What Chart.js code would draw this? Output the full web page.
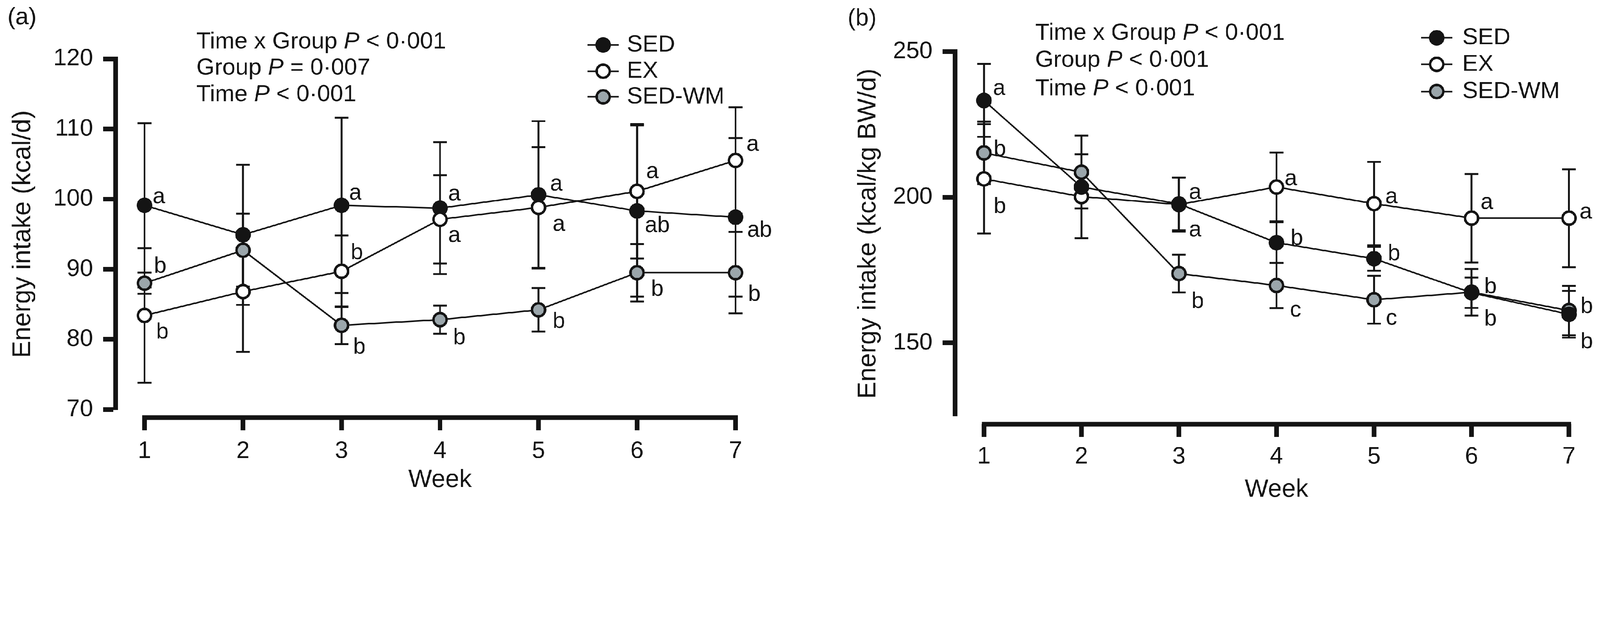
<!DOCTYPE html>
<html>
<head>
<meta charset="utf-8">
<script src="https://cdn.jsdelivr.net/npm/chart.js@4.4.1/dist/chart.umd.min.js"></script>
<style>
  html, body { margin: 0; padding: 0; background: #fff; overflow: hidden; }
  #outer { position: relative; overflow: hidden; }
  #wrap { position: absolute; left: 0; top: 0; width: 5125px; height: 1612px; transform-origin: 0 0; }
  canvas { position: absolute; top: 0; }
</style>
</head>
<body>
<div id="outer">
<div id="wrap">
  <canvas id="chartA" width="2560" height="1612" style="left:0"></canvas>
  <canvas id="chartB" width="2565" height="1612" style="left:2560px"></canvas>
</div>
</div>
<script>
const weeks = [1, 2, 3, 4, 5, 6, 7];
const groups = ['SED', 'EX', 'SED-WM'];

// (a) energy intake, kcal/d (mean and SD)
const sedA = [99.1, 94.9, 99.1, 98.7, 100.6, 98.3, 97.4];
const sedSdA = [11.7, 10.0, 12.5, 9.4, 10.5, 12.2, 11.3];
const exA = [83.4, 86.8, 89.7, 97.1, 98.8, 101.1, 105.5];
const exSdA = [9.6, 8.6, 5.1, 6.3, 8.6, 9.6, 7.6];
const wmA = [88.0, 92.7, 82.0, 82.8, 84.2, 89.5, 89.5];
const wmSdA = [1.5, 5.2, 2.7, 2.0, 3.1, 4.1, 5.8];
const yTicksA = [70, 80, 90, 100, 110, 120];

// (b) energy intake, kcal/kg BW/d
const sedB = [233.2, 203.5, 197.7, 184.4, 178.9, 167.2, 159.8];
const sedSdB = [12.5, 17.6, 9.0, 7.0, 4.1, 5.2, 8.0];
const exB = [206.3, 200.2, 197.5, 203.5, 197.8, 192.8, 192.8];
const exSdB = [18.8, 4.1, 9.3, 11.8, 14.3, 15.2, 16.8];
const wmB = [215.2, 208.6, 173.8, 169.7, 164.8, 167.4, 161.1];
const wmSdB = [10.7, 6.1, 6.5, 7.8, 8.2, 8.0, 8.5];
const yTicksB = [150, 200, 250];

// significance letters
const lettersA = [
  ['a', '', 'a', 'a', 'a', 'ab', 'ab'],
  ['b', '', 'b', 'a', 'a', 'a', 'a'],
  ['b', '', 'b', 'b', 'b', 'b', 'b']
];
const lettersB = [
  ['a', '', 'a', 'b', 'b', 'b', 'b'],
  ['b', '', 'a', 'a', 'a', 'a', 'a'],
  ['b', '', 'b', 'c', 'c', 'b', 'b']
];

const statsA = [['Time x Group ', 'P', ' < 0·001'], ['Group ', 'P', ' = 0·007'], ['Time ', 'P', ' < 0·001']];
const statsB = [['Time x Group ', 'P', ' < 0·001'], ['Group ', 'P', ' < 0·001'], ['Time ', 'P', ' < 0·001']];

const INK = '#141414';
const GREY = '#9ba6ab';
const FONT = "'Liberation Sans', Arial, Helvetica, sans-serif";

// fit the 5125 x 1612 drawing into the window
const fit = window.innerWidth / 5125;
document.getElementById('wrap').style.transform = 'scale(' + fit + ')';
document.getElementById('outer').style.width = (5125 * fit) + 'px';
document.getElementById('outer').style.height = (1612 * fit) + 'px';

// letter offsets from each point (px)
const letterPosA = [
  [[46, -26], null, [44, -38], [46, -44], [57, -34], [65, 48], [77, 43]],
  [[57, 54], null, [49, -58], [46, 53], [65, 55], [49, -62], [55, -51]],
  [[50, -54], null, [57, 71], [62, 59], [65, 38], [65, 54], [60, 70]]
];
const letterPosB = [
  [[49, -38], null, [52, -36], [65, -13], [64, -15], [61, -18], [57, 89]],
  [[51, 90], null, [52, 82], [46, -26], [56, -21], [49, -49], [54, -18]],
  [[51, -10], null, [60, 90], [61, 80], [56, 60], [61, 87], [57, -12]]
];

function panelPlugin(p) {
  return {
    id: 'panel',
    beforeDatasetsDraw(chart) {
      const ctx = chart.ctx, xs = chart.scales.x, ys = chart.scales.y;
      ctx.save();
      ctx.strokeStyle = INK;
      ctx.lineWidth = 6;
      p.sd.forEach((sds, i) => {
        const means = chart.data.datasets[i].data;
        sds.forEach((s, j) => {
          const px = xs.getPixelForValue(weeks[j]);
          const hi = ys.getPixelForValue(means[j] + s);
          const lo = ys.getPixelForValue(means[j] - s);
          ctx.beginPath();
          ctx.moveTo(px, hi); ctx.lineTo(px, lo);
          ctx.moveTo(px - 22, hi); ctx.lineTo(px + 22, hi);
          ctx.moveTo(px - 22, lo); ctx.lineTo(px + 22, lo);
          ctx.stroke();
        });
      });
      ctx.restore();
    },
    afterDraw(chart) {
      const ctx = chart.ctx, xs = chart.scales.x, ys = chart.scales.y;
      const area = chart.chartArea;
      ctx.save();
      ctx.fillStyle = INK;
      ctx.strokeStyle = INK;

      // detached x axis
      const ax = area.bottom + p.xGap;
      const x1 = xs.getPixelForValue(weeks[0]);
      const x7 = xs.getPixelForValue(weeks[weeks.length - 1]);
      ctx.lineWidth = 15;
      ctx.beginPath();
      ctx.moveTo(x1 - 7, ax); ctx.lineTo(x7 + 7, ax);
      ctx.stroke();
      weeks.forEach(w => {
        const px = xs.getPixelForValue(w);
        ctx.beginPath();
        ctx.moveTo(px, ax); ctx.lineTo(px, ax + 41);
        ctx.stroke();
      });

      ctx.textBaseline = 'middle';
      ctx.textAlign = 'center';
      ctx.font = '80px ' + FONT;
      ctx.fillText('Week', (x1 + x7) / 2, p.weekY);

      // letters
      ctx.font = '72px ' + FONT;
      p.letters.forEach((row, i) => {
        const means = chart.data.datasets[i].data;
        row.forEach((t, j) => {
          if (!t) return;
          const off = p.letterPos[i][j];
          ctx.fillText(t, xs.getPixelForValue(weeks[j]) + off[0], ys.getPixelForValue(means[j]) + off[1]);
        });
      });

      // panel tag
      ctx.textAlign = 'left';
      ctx.font = '76px ' + FONT;
      ctx.fillText(p.tag, p.tagX, p.tagY);

      // stats text
      p.stats.forEach((parts, k) => {
        let x = p.statX;
        const y = p.statY[k];
        parts.forEach((s, n) => {
          ctx.font = (n === 1 ? 'italic ' : '') + '75px ' + FONT;
          ctx.fillText(s, x, y);
          x += ctx.measureText(s).width;
        });
      });

      // legend
      chart.data.datasets.forEach((ds, i) => {
        const y = p.legY[i];
        ctx.lineWidth = 5;
        ctx.beginPath();
        ctx.moveTo(p.legX - 50, y); ctx.lineTo(p.legX + 50, y);
        ctx.stroke();
        ctx.beginPath();
        ctx.arc(p.legX, y, 21, 0, Math.PI * 2);
        ctx.fillStyle = ds.pointBackgroundColor;
        ctx.fill();
        ctx.lineWidth = 8;
        ctx.stroke();
        ctx.fillStyle = INK;
        ctx.font = '75px ' + FONT;
        ctx.fillText(groups[i], p.legTextX, y);
      });
      ctx.restore();
    }
  };
}

function makeChart(id, series, sds, orders, p) {
  const fills = [INK, '#ffffff', GREY];
  return new Chart(document.getElementById(id), {
    type: 'line',
    data: {
      labels: weeks,
      datasets: series.map((d, i) => ({
        label: groups[i],
        data: d,
        order: orders[i],
        borderColor: INK,
        borderWidth: 5,
        pointRadius: 21,
        pointBorderWidth: 8,
        pointBackgroundColor: fills[i],
        pointBorderColor: INK,
        tension: 0,
        clip: false
      }))
    },
    options: {
      responsive: false,
      animation: false,
      devicePixelRatio: 1,
      layout: { padding: { top: p.top, right: p.right, left: 0, bottom: 0 } },
      plugins: { legend: { display: false }, tooltip: { enabled: false } },
      scales: {
        x: {
          type: 'linear',
          min: p.xMin,
          max: 7,
          afterBuildTicks: s => { s.ticks = weeks.map(v => ({ value: v })); },
          afterFit: s => { s.height = 1612 - p.bottom; },
          grid: { display: false },
          border: { display: false },
          ticks: { color: INK, padding: p.xPad, font: { size: 76, family: FONT }, maxRotation: 0 }
        },
        y: {
          min: p.yMin,
          max: p.yMax,
          afterBuildTicks: s => { s.ticks = p.yTicks.map(v => ({ value: v })); },
          afterFit: s => { s.width = p.yAxisX; },
          grid: { display: true, drawOnChartArea: false, drawTicks: true, tickLength: 40, tickWidth: 15, tickColor: INK },
          border: { display: true, width: 15, color: INK },
          ticks: { color: INK, padding: 32, font: { size: 76, family: FONT } },
          title: { display: true, text: p.yTitle, color: INK, font: { size: 82, family: FONT }, padding: { top: p.yTitlePad, bottom: 0 } }
        }
      }
    },
    plugins: [panelPlugin(Object.assign({ sd: sds }, p))]
  });
}

makeChart('chartA', [sedA, exA, wmA], [sedSdA, exSdA, wmSdA], [2, 1, 0], {
  top: 188, bottom: 1311, right: 204, yAxisX: 370, xMin: 0.7054,
  yMin: 70, yMax: 120, yTicks: yTicksA, xPad: 80, xGap: 26, weekY: 1537,
  yTitle: 'Energy intake (kcal/d)', yTitlePad: 24,
  letters: lettersA, letterPos: letterPosA,
  tag: '(a)', tagX: 24, tagY: 57,
  stats: statsA, statX: 629, statY: [134, 218, 303],
  legX: 1932, legTextX: 2008, legY: [144, 228, 310]
});

makeChart('chartB', [sedB, exB, wmB], [sedSdB, exSdB, wmSdB], [0, 1, 2], {
  top: 165, bottom: 1331, right: 91, yAxisX: 499, xMin: 0.7035,
  yMin: 125, yMax: 250, yTicks: yTicksB, xPad: 78, xGap: 27, weekY: 1568,
  yTitle: 'Energy intake (kcal/kg BW/d)', yTitlePad: 172,
  letters: lettersB, letterPos: letterPosB,
  tag: '(b)', tagX: 155, tagY: 60,
  stats: statsB, statX: 756, statY: [106, 193, 284],
  legX: 2042, legTextX: 2124, legY: [121, 206, 293]
});
</script>
</body>
</html>
